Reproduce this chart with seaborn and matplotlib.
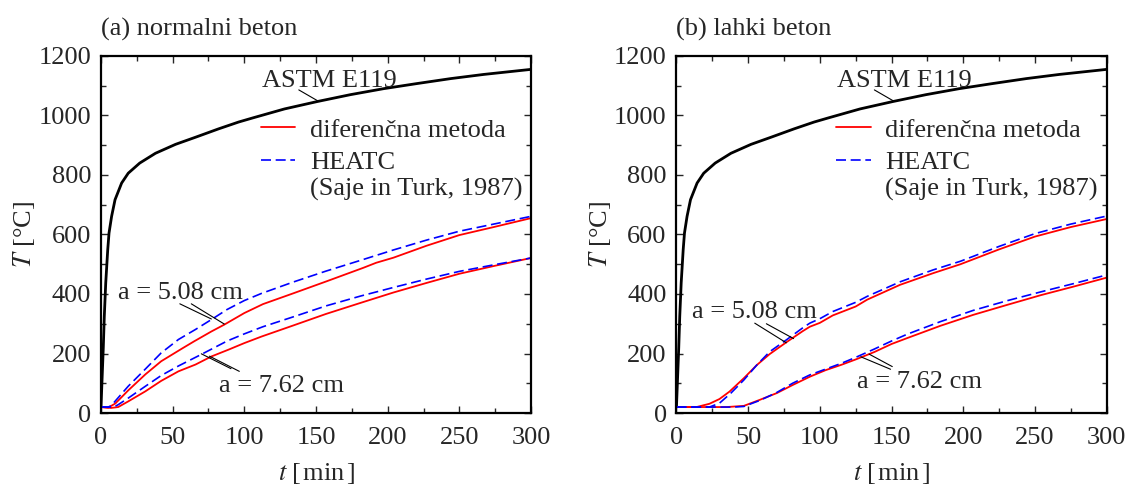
import numpy as np
import matplotlib
matplotlib.use("Agg")
import matplotlib.pyplot as plt
import seaborn as sns
from matplotlib.legend_handler import HandlerLine2D
from matplotlib.ticker import MultipleLocator

# ASTM E119 standard fire curve (same for both panels)
astm_t = [0, 0.8, 1.6, 2.3, 3.3, 4.7, 5.6, 7.4, 9.8, 14.4, 19, 27, 38, 52, 66, 82, 96, 106, 128, 151, 174, 197, 220, 244, 267, 300]
astm_T = [20, 120, 220, 325, 437, 549, 605, 661, 717, 773, 806, 840, 873, 903, 927, 955, 978, 992, 1022, 1047, 1070, 1090, 1107, 1124, 1138, 1155]

# (a) normalni beton
a_fd508_t = [0, 5, 10, 19, 31, 42, 57, 65, 77, 86, 100, 113, 134, 157, 183, 192, 204, 227, 250, 274, 300]
a_fd508_T = [20, 18, 32, 76, 130, 174, 218, 241, 274, 297, 336, 366, 402, 442, 488, 505, 522, 562, 598, 625, 655]
a_ht508_t = [0, 5, 7, 19, 31, 42, 54, 66, 77, 88, 100, 112, 134, 157, 181, 204, 227, 250, 274, 300]
a_ht508_T = [20, 20, 24, 90, 148, 202, 247, 281, 314, 348, 378, 402, 440, 477, 513, 548, 581, 611, 635, 661]
a_fd762_t = [0, 7, 12, 19, 31, 42, 54, 66, 77, 89, 100, 112, 134, 157, 181, 204, 227, 250, 274, 300]
a_fd762_T = [20, 17, 20, 39, 73, 108, 140, 163, 190, 213, 235, 257, 294, 333, 370, 405, 437, 468, 494, 521]
a_ht762_t = [0, 9, 12, 19, 31, 42, 54, 70, 88, 100, 113, 134, 157, 181, 204, 227, 250, 274, 300]
a_ht762_T = [20, 20, 28, 50, 90, 126, 158, 197, 242, 266, 290, 323, 360, 393, 422, 450, 476, 498, 521]

# (b) lahki beton
b_fd508_t = [0, 14, 23, 30, 37, 47, 56, 65, 77, 88, 93, 100, 109, 125, 133, 156, 179, 198, 225, 250, 275, 300]
b_fd508_T = [20, 20, 31, 47, 72, 117, 161, 198, 239, 275, 290, 303, 328, 358, 381, 431, 470, 500, 550, 593, 625, 652]
b_ht508_t = [0, 23, 30, 38, 47, 56, 65, 77, 88, 93, 100, 109, 125, 133, 156, 179, 198, 225, 250, 275, 300]
b_ht508_T = [20, 20, 33, 67, 111, 161, 206, 247, 286, 302, 317, 341, 372, 392, 441, 481, 510, 560, 603, 635, 662]
b_fd762_t = [0, 35, 47, 58, 70, 81, 93, 104, 115, 125, 138, 150, 161, 184, 207, 231, 254, 277, 300]
b_fd762_T = [20, 20, 24, 44, 67, 94, 122, 144, 162, 180, 205, 232, 252, 293, 330, 364, 396, 425, 455]
b_ht762_t = [0, 40, 47, 58, 70, 81, 93, 115, 125, 138, 150, 161, 184, 207, 231, 254, 277, 300]
b_ht762_T = [20, 20, 22, 42, 69, 100, 128, 167, 187, 215, 242, 265, 307, 345, 378, 407, 435, 464]

FS = 19


class FirstLineHandler(HandlerLine2D):
    # put the legend sample next to the first line of a two-line label
    def create_artists(self, legend, orig_handle, xdescent, ydescent, width, height, fontsize, trans):
        arts = super().create_artists(legend, orig_handle, xdescent, ydescent, width, height, fontsize, trans)
        for a in arts:
            a.set_ydata(np.asarray(a.get_ydata()) + 0.6 * fontsize)
        return arts


def leader(ax, p0, p1):
    ax.annotate("", xy=p1, xytext=p0,
                arrowprops=dict(arrowstyle="-", color="black", lw=0.8, shrinkA=0, shrinkB=0))


def draw_panel(ax, title, fd508, ht508, fd762, ht762, lab508, lab762, lines508, lines762):
    sns.lineplot(x=astm_t, y=astm_T, ax=ax, color="black", lw=2.0, estimator=None, sort=False)
    for (t, T) in (fd508, fd762):
        sns.lineplot(x=t, y=T, ax=ax, color="red", lw=1.3, estimator=None, sort=False)
    red_line = ax.lines[-1]
    for (t, T) in (ht508, ht762):
        sns.lineplot(x=t, y=T, ax=ax, color="blue", lw=1.2, linestyle=(0, (6, 2.8)),
                     estimator=None, sort=False)
    blue_line = ax.lines[-1]

    ax.set_xlim(0, 300)
    ax.set_ylim(0, 1200)
    ax.xaxis.set_major_locator(MultipleLocator(50))
    ax.xaxis.set_minor_locator(MultipleLocator(25))
    ax.yaxis.set_major_locator(MultipleLocator(200))
    ax.yaxis.set_minor_locator(MultipleLocator(100))
    ax.tick_params(which="both", direction="in", top=True, right=True, labelsize=FS, width=1.0)
    ax.tick_params(which="major", length=5, pad=7)
    ax.tick_params(which="minor", length=3.5)
    ax.tick_params(axis="x", which="major", pad=10)
    for s in ax.spines.values():
        s.set_linewidth(1.6)
        s.set_color("black")

    ax.set_xlabel("$t$ [\u200amin\u200a]", fontsize=FS, labelpad=9)
    ax.set_ylabel("$T$ [°C]", fontsize=FS, labelpad=1)
    ax.set_title(title, loc="left", fontsize=FS, pad=15)

    ax.text(112, 1097, "ASTM E119", fontsize=FS, ha="left", va="baseline")
    leader(ax, (138, 1086), (152, 1047))
    ax.text(lab508[0], lab508[1], "a = 5.08 cm", fontsize=FS, ha="left", va="baseline")
    ax.text(lab762[0], lab762[1], "a = 7.62 cm", fontsize=FS, ha="left", va="baseline")
    for p0, p1 in lines508 + lines762:
        leader(ax, p0, p1)

    ax.legend(handles=[red_line, blue_line],
              labels=["diferenčna metoda", "HEATC\n(Saje in Turk, 1987)"],
              handler_map={blue_line: FirstLineHandler()},
              loc="upper left", bbox_to_anchor=(0.372, 0.826), borderaxespad=0, borderpad=0,
              frameon=False, fontsize=FS, handlelength=1.3, handletextpad=0.55,
              labelspacing=0.4)


sns.set_theme(style="ticks")
plt.rcParams["font.family"] = ["Liberation Serif", "DejaVu Serif"]
plt.rcParams["mathtext.fontset"] = "stix"

fig = plt.figure(figsize=(11.31, 4.86), dpi=100)
ax1 = fig.add_axes([0.0893, 0.1502, 0.3802, 0.7346])
ax2 = fig.add_axes([0.5981, 0.1502, 0.3804, 0.7346])

draw_panel(ax1, "(a) normalni beton",
           (a_fd508_t, a_fd508_T), (a_ht508_t, a_ht508_T),
           (a_fd762_t, a_fd762_T), (a_ht762_t, a_ht762_T),
           (11.6, 384), (82.6, 72),
           [((55, 367), (77, 316)), ((63, 367), (86, 299))],
           [((70, 199), (90.7, 149)), ((75.7, 191), (96.5, 140))])

draw_panel(ax2, "(b) lahki beton",
           (b_fd508_t, b_fd508_T), (b_ht508_t, b_ht508_T),
           (b_fd762_t, b_fd762_T), (b_ht762_t, b_ht762_T),
           (10.6, 318), (125.8, 83),
           [((54.6, 302), (76.6, 236)), ((62.7, 300), (81.7, 250))],
           [((128.5, 189), (149.3, 147)), ((134.3, 198), (150.5, 156))])

fig.savefig("out.png", dpi=100)
